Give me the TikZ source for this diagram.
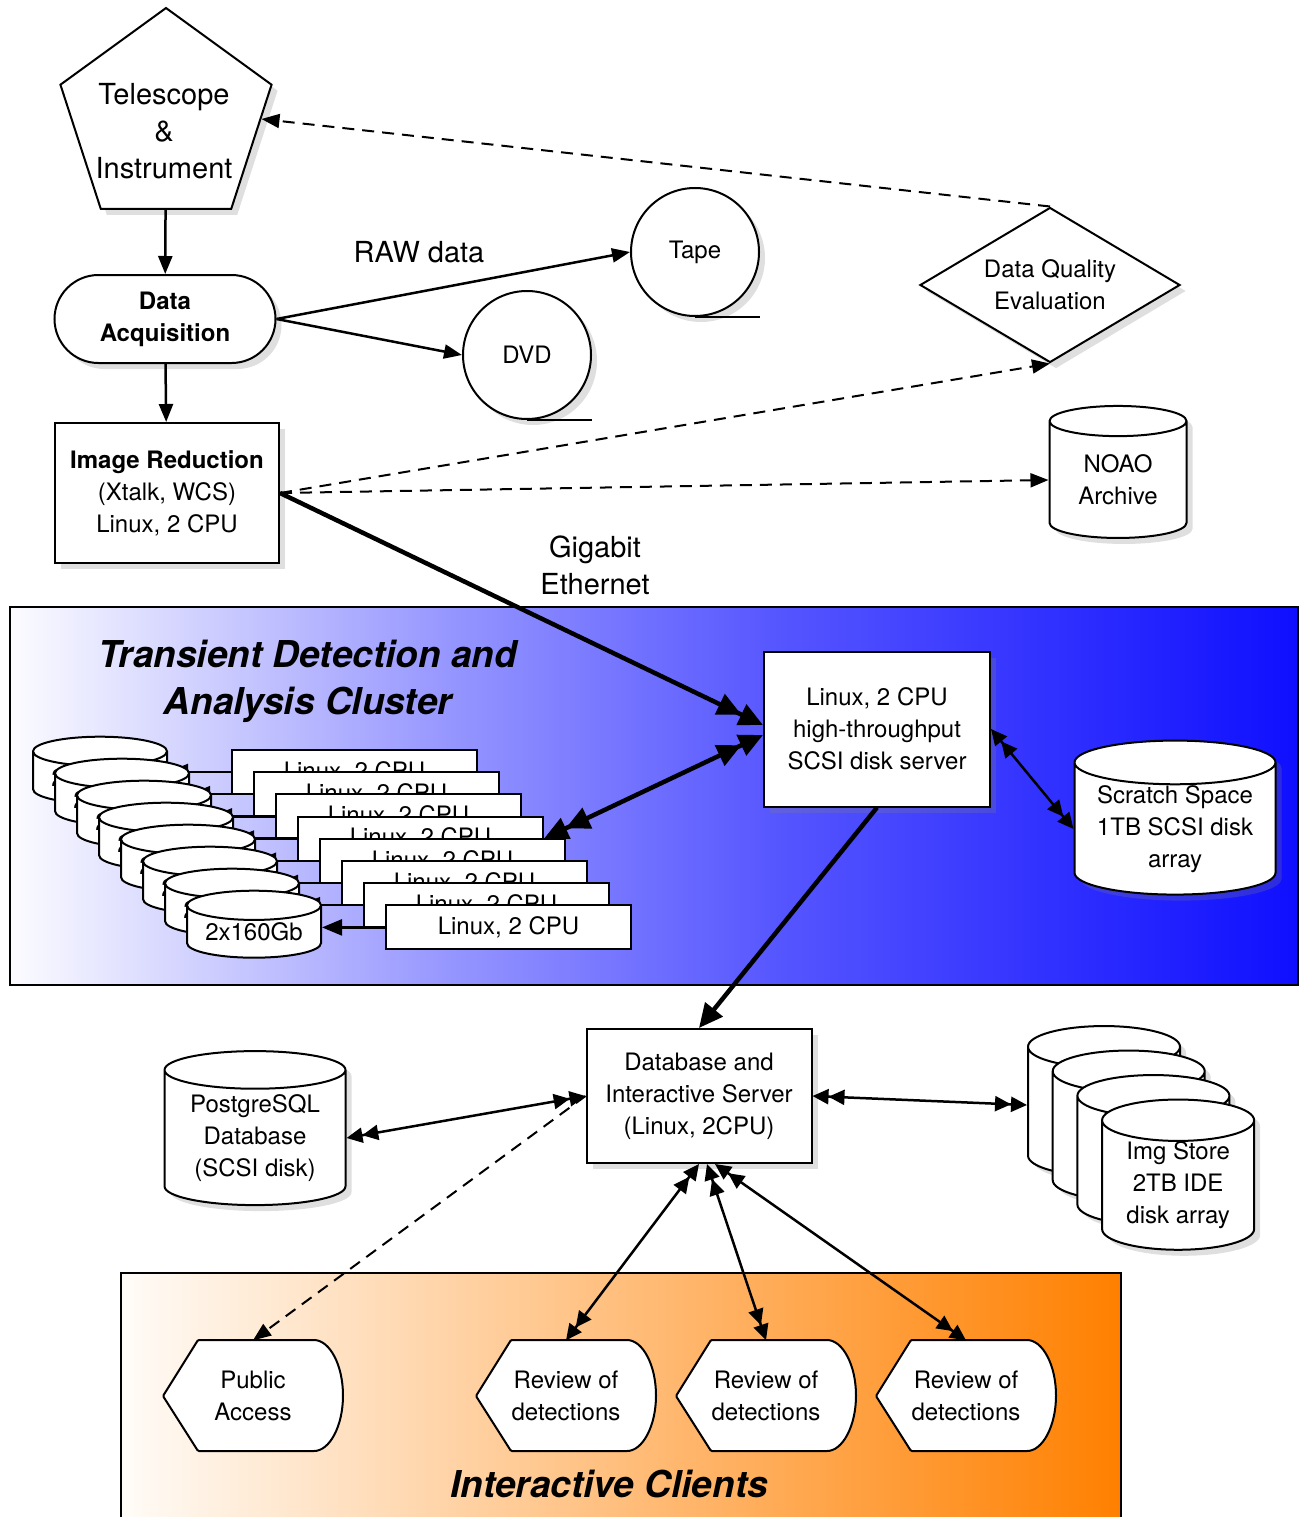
\documentclass[tikz,border=0pt]{standalone}
\usepackage{fontspec}
\setmainfont{TeX Gyre Heros}
\usetikzlibrary{shapes.geometric,arrows.meta,shadows,positioning,calc}

\definecolor{clusterA}{RGB}{252,252,255}
\definecolor{clusterB}{RGB}{150,150,255}
\definecolor{clusterC}{RGB}{85,85,255}
\definecolor{clusterD}{RGB}{15,15,255}
\definecolor{clientA}{RGB}{255,252,248}
\definecolor{clientB}{RGB}{255,128,0}
\pgfdeclarehorizontalshading{clustershade}{100bp}{color(0bp)=(clusterA); color(25bp)=(clusterA); color(42bp)=(clusterB); color(55bp)=(clusterC); color(75bp)=(clusterD); color(100bp)=(clusterD)}

\tikzset{
  smalltext/.style={font=\fontsize{24}{32}\selectfont, align=center},
  bigtext/.style={font=\fontsize{29}{37}\selectfont, align=center},
  areatitle/.style={font=\fontsize{37}{47}\selectfont\bfseries\itshape, align=center},
  srvbox/.style={draw, fill=white, line width=2pt, smalltext},
  drum/.style={cylinder, shape border rotate=90, draw, fill=white, line width=2pt, inner sep=0pt, smalltext},
  shadowed/.style={drop shadow={shadow xshift=6pt, shadow yshift=-6pt, opacity=0.25}},
  dispshape/.style={draw, fill=white, line width=2pt, rounded corners=1pt},
  link/.style={line width=2.5pt},
  fatlink/.style={line width=4.5pt},
  dashlink/.style={line width=2pt, dash pattern=on 12pt off 8pt},
  onearr/.style={-{Triangle[length=18pt,width=14pt]}},
  twoarr/.style={{Triangle[length=16pt,width=15pt]Triangle[length=16pt,width=15pt]}-{Triangle[length=16pt,width=15pt]Triangle[length=16pt,width=15pt]}},
  fatarr/.style={{Triangle[length=24pt,width=22pt]Triangle[length=24pt,width=22pt]}-{Triangle[length=24pt,width=22pt]Triangle[length=24pt,width=22pt]}},
  fatend/.style={-{Triangle[length=24pt,width=22pt]Triangle[length=24pt,width=22pt]}}
}

\begin{document}
\begin{tikzpicture}[x=1pt, y=-1pt]
\useasboundingbox (0,0) rectangle (1302,1517);

% Coloured areas
\draw[line width=2pt, shading=clustershade] (10,607) rectangle (1298,985);
\draw[line width=2pt, left color=clientA, right color=clientB] (121,1273) rectangle (1121,1530);
\node[areatitle] (clustertitle) at (308,681) {Transient Detection and\\Analysis Cluster};
\node[areatitle] (clienttitle) at (609,1484) {Interactive Clients};

% Mountain top
\node[regular polygon, regular polygon sides=5, minimum size=222pt, inner sep=0pt, draw, fill=white, line width=2pt, shadowed] (tel) at (166,119) {};
\node[bigtext] (teltext) at (164,131) {Telescope\\\&\\Instrument};
\node[srvbox, shadowed, rounded corners=44pt, minimum width=221pt, minimum height=88pt, font=\fontsize{24}{32}\selectfont\bfseries] (daq) at (165,319) {Data\\Acquisition};
\node[srvbox, shadowed, minimum width=224pt, minimum height=140pt] (imgred) at (167,493) {\textbf{Image Reduction}\\(Xtalk, WCS)\\Linux, 2 CPU};

\node[circle, draw, fill=white, line width=2pt, minimum size=128pt, inner sep=0pt, shadowed, smalltext] (tape) at (695,252) {Tape};
\draw[line width=2pt] (tape.south) -- ++(65,0);
\node[circle, draw, fill=white, line width=2pt, minimum size=128pt, inner sep=0pt, shadowed, smalltext] (dvd) at (527,355) {DVD};
\draw[line width=2pt] (dvd.south) -- ++(65,0);
\node[bigtext] (rawlabel) at (419,252) {RAW data};

\node[diamond, draw, fill=white, line width=2pt, minimum width=260pt, minimum height=155pt, aspect=1.68, inner sep=0pt, shadowed, smalltext] (dq) at (1050,285) {Data Quality\\Evaluation};
\node[drum, shadowed, minimum width=137pt, minimum height=132pt, aspect=0.38] (noao) at (1118,480) {NOAO\\Archive};
\node[bigtext] (gblabel) at (595,565) {Gigabit\\Ethernet};

\draw[link, onearr] (tel) -- (daq);
\draw[link, onearr] (daq) -- (imgred);
\draw[link, onearr] (daq.east) -- (tape.west);
\draw[link, onearr] (daq.east) -- (dvd.west);
\draw[dashlink, onearr] (dq.north) -- (tel.east);
\draw[dashlink, onearr] (imgred.east) -- (dq.south);
\draw[dashlink, onearr] (imgred.east) -- (noao.west);

% Cluster
\foreach \i in {0,...,7} {
  \node[drum, minimum width=134pt, minimum height=67pt, aspect=0.3] (dk\i) at (100+22*\i,778+22*\i) {2x160Gb};
  \node[srvbox, minimum width=245pt, minimum height=44pt] (lx\i) at (354.5+22*\i,772+22.2*\i) {Linux, 2 CPU};
  \draw[link, -{Triangle[length=20pt,width=16pt]}] (lx\i.west) -- (dk\i.east |- lx\i.west);
}
\node[srvbox, shadowed, minimum width=226pt, minimum height=155pt] (server) at (877,729) {Linux, 2 CPU\\high-throughput\\SCSI disk server};
\node[drum, shadowed, minimum width=201pt, minimum height=154pt, aspect=0.28] (scratch) at (1175,829) {Scratch Space\\1TB SCSI disk\\array};
\draw[fatlink, fatend] (imgred.east) -- ([yshift=4pt]server.west);
\draw[fatlink, fatarr] (lx3.east) -- ([yshift=-6pt]server.west);
\draw[link, twoarr] (server.east) -- (scratch.west);

% Database
\node[srvbox, shadowed, minimum width=225pt, minimum height=134pt] (db) at (699,1096) {Database and\\Interactive Server\\(Linux, 2CPU)};
\node[drum, shadowed, minimum width=181pt, minimum height=154pt, aspect=0.29] (pg) at (255,1138) {PostgreSQL\\Database\\(SCSI disk)};
\foreach \i in {0,...,3}
  \node[drum, shadowed, minimum width=152pt, minimum height=145pt, aspect=0.4] (st\i) at (1104+24.7*\i,1112+24.5*\i) {Img Store\\2TB IDE\\disk array};
\draw[fatlink, -{Triangle[length=24pt,width=22pt]}] (server.south) -- (db.north);
\draw[link, twoarr] (pg.east) -- (db.west);
\draw[link, twoarr] (db.east) -- ([yshift=7pt]st0.west);

% Clients
\foreach \n/\cx/\txt in {pub/253/{Public\\Access}, rev1/566/{Review of\\detections}, rev2/766/{Review of\\detections}, rev3/966/{Review of\\detections}} {
  \draw[dispshape] (\cx-90,1396) -- (\cx-55,1340) -- (\cx+60,1340) arc[start angle=-90, end angle=90, x radius=30, y radius=55.5] -- (\cx-55,1451) -- cycle;
  \node[smalltext, minimum width=180pt, minimum height=111pt] (\n) at (\cx,1396) {\txt};
}
\draw[dashlink, onearr] (db.west) -- (pub.north);
\draw[link, twoarr] (db.south) -- (rev1.north);
\draw[link, twoarr] ([xshift=8pt]db.south) -- (rev2.north);
\draw[link, twoarr] ([xshift=16pt]db.south) -- (rev3.north);
\end{tikzpicture}
\end{document}
